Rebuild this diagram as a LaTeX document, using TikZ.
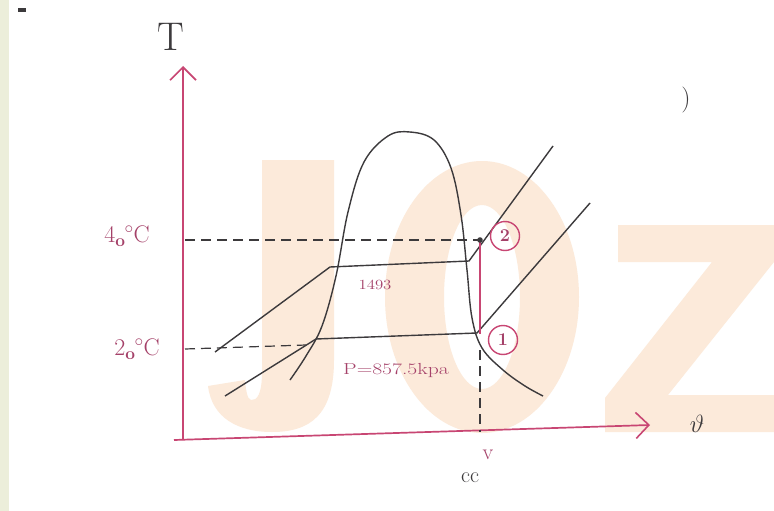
\documentclass[tikz,border=0pt]{standalone}
\usetikzlibrary{arrows.meta}
\definecolor{ink}{RGB}{60,58,60}
\definecolor{pinkink}{RGB}{200,70,115}
\definecolor{labink}{RGB}{165,65,105}
\definecolor{wm}{RGB}{252,234,218}
\definecolor{edge}{RGB}{236,238,218}
\tikzset{
  axis/.style={pinkink, line width=1.7pt, -{Straight Barb[length=13pt,width=26pt,line width=1.6pt]}},
  curve/.style={ink, line width=1.4pt},
  dash line/.style={ink, line width=1.2pt, dash pattern=on 10pt off 6pt},
  ptcircle/.style={circle, draw=pinkink, line width=1.4pt, minimum size=29pt, inner sep=0pt, font=\fontsize{18}{18}\selectfont\bfseries, text=labink},
  lab/.style={text=labink, inner sep=1pt}
}
\begin{document}
\begin{tikzpicture}[x=1pt,y=-1pt]
\useasboundingbox (0,0) rectangle (774,511);
\fill[white] (0,0) rectangle (774,511);
\fill[edge] (0,0) rectangle (9,511);
\fill[ink] (18,8) rectangle (26,12);
% watermark shapes
\fill[wm] (262,160) -- (262,372) .. controls (262,394) and (257,401) .. (251,400)
  .. controls (247,399) and (246,390) .. (245,380) -- (208,386)
  .. controls (212,418) and (238,432) .. (272,432)
  .. controls (310,432) and (334,415) .. (334,360) -- (334,160) -- cycle;
\fill[wm, even odd rule] (482,297) ellipse [x radius=97, y radius=136]
  (482,297) ellipse [x radius=38, y radius=92];
\fill[wm] (618,225) -- (774,225) -- (774,262) -- (668,395) -- (774,395) -- (774,432)
  -- (605,432) -- (605,398) -- (712,262) -- (618,262) -- cycle;
% axes
\coordinate (o) at (183,440);
\coordinate (ty) at (183,66);
\coordinate (xo) at (174,440);
\coordinate (vx) at (650,425);
\draw[axis] (o) -- (ty);
\draw[axis] (xo) -- (vx);
\node[text=ink, font=\fontsize{40}{40}\selectfont] (Tlab) at (171,37) {T};
\node[text=ink, font=\fontsize{36}{36}\selectfont] (vlab) at (697,424) {$\vartheta$};
\node[text=ink, font=\fontsize{26}{26}\selectfont] (tick) at (686,100) {)};
% saturation dome
\draw[curve] plot[smooth, tension=0.6] coordinates {(290,380) (306,356) (322,326) (336,276) (348,212) (364,162) (388,136) (410,132) (434,140) (451,168) (461,215) (467,270) (472,318) (482,348) (503,370) (525,386) (543,396)};
% upper isobar
\coordinate (u0) at (215,352);
\coordinate (u1) at (330,267);
\coordinate (u2) at (469,261);
\coordinate (u3) at (553,146);
\draw[curve] (u0) -- (u1) -- (u2) -- (u3);
% lower isobar
\coordinate (l0) at (225,396);
\coordinate (l1) at (316,339);
\coordinate (l2) at (477,333);
\coordinate (l3) at (590,203);
\draw[curve] (l0) -- (l1) -- (l2) -- (l3);
% temperature guides
\coordinate (t40) at (185,240);
\coordinate (p2) at (480,240);
\coordinate (t20) at (185,349);
\coordinate (t20e) at (306,345);
\draw[dash line] (t40) -- (p2);
\draw[dash line] (t20) -- (t20e);
\coordinate (p1) at (480,334);
\coordinate (vb) at (480,350);
\coordinate (vaxis) at (480,432);
\draw[pinkink, line width=1.5pt] (p2) -- (p1);
\draw[dash line] (vb) -- (vaxis);
\fill[ink] (p2) circle (2.8pt);
% labels
\node[lab, font=\fontsize{24}{24}\selectfont] (L40) at (127,236) {4$_{\mathbf o}$\kern-1pt$^{\circ}$C};
\node[lab, font=\fontsize{24}{24}\selectfont] (L20) at (137,349) {2$_{\mathbf o}$\kern-1pt$^{\circ}$C};
\node[ptcircle] (c2) at (505,236) {2};
\node[ptcircle] (c1) at (503,340) {1};
\node[lab, font=\fontsize{14}{14}\selectfont, xscale=1.2] (P40) at (375,285) {1493};
\node[lab, font=\fontsize{16}{16}\selectfont, xscale=1.35] (P20) at (396,371) {P=857.5kpa};
\node[lab, font=\fontsize{22}{22}\selectfont] (vv) at (488,455) {v};
\node[text=ink, font=\fontsize{22}{22}\selectfont] (cc) at (470,478) {cc};
\end{tikzpicture}
\end{document}
